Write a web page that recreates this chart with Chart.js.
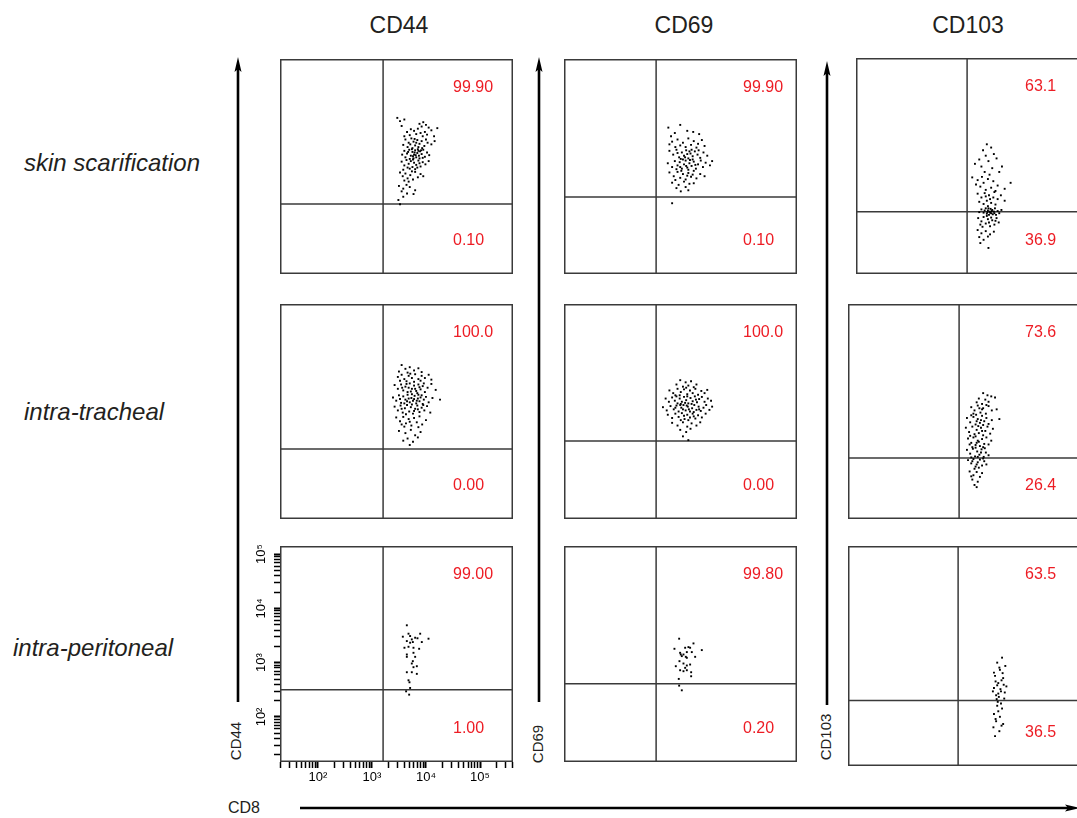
<!DOCTYPE html>
<html>
<head>
<meta charset="utf-8">
<script src="https://cdn.jsdelivr.net/npm/chart.js@4.4.1/dist/chart.umd.min.js"></script>
<style>
  html, body { margin: 0; padding: 0; background: #fff; }
  body { width: 1077px; height: 818px; position: relative; overflow: hidden; }
  canvas { position: absolute; }
  svg { position: absolute; left: 0; top: 0; }
  svg text { font-family: "Liberation Sans", Arial, sans-serif; fill: #231f20; }
</style>
</head>
<body>
<svg width="1077" height="818">
  <text x="399" y="33" font-size="23" text-anchor="middle">CD44</text>
  <text x="684" y="33" font-size="23" text-anchor="middle">CD69</text>
  <text x="968" y="33" font-size="23" text-anchor="middle">CD103</text>

  <text x="24" y="171" font-size="24" font-style="italic">skin scarification</text>
  <text x="24" y="420" font-size="24" font-style="italic">intra-tracheal</text>
  <text x="13" y="656" font-size="24" font-style="italic">intra-peritoneal</text>

  <text transform="translate(241,741) rotate(-90)" font-size="15" text-anchor="middle">CD44</text>
  <text transform="translate(543,744) rotate(-90)" font-size="15" text-anchor="middle">CD69</text>
  <text transform="translate(831,737) rotate(-90)" font-size="15" text-anchor="middle">CD103</text>
  <text x="228" y="813" font-size="16">CD8</text>

  <g stroke="#000" stroke-width="2.6" fill="#000">
    <line x1="238" y1="702" x2="238" y2="68"/>
    <polygon points="238,57 234.5,72 238,69 241.5,72" stroke="none"/>
    <line x1="539" y1="702" x2="539" y2="68"/>
    <polygon points="539,57 535.5,72 539,69 542.5,72" stroke="none"/>
    <line x1="827" y1="705" x2="827" y2="72"/>
    <polygon points="827,61 823.5,76 827,73 830.5,76" stroke="none"/>
    <line x1="300" y1="808" x2="1068" y2="808"/>
    <polygon points="1080,808 1065,804.5 1068,808 1065,811.5" stroke="none"/>
  </g>
</svg>
<script>
// log10 fluorescence values: [CD8, marker]
const skinCD44 = [
  [3.47,4.06],[3.52,4.00],[3.60,4.03],[3.55,3.91],[3.88,3.95],[3.95,3.98],[4.00,3.93],[3.92,3.90],[4.05,3.88],
  [3.65,3.80],[3.72,3.85],[3.78,3.82],[3.85,3.86],[3.90,3.78],[3.98,3.80],[4.10,3.83],[4.21,3.87],[3.70,3.74],[3.82,3.76],[3.94,3.72],[4.02,3.75],[4.15,3.72],[3.60,3.72],
  [3.62,3.66],[3.68,3.60],[3.73,3.68],[3.77,3.62],[3.80,3.55],[3.84,3.65],[3.88,3.58],[3.92,3.63],[3.97,3.54],[4.03,3.60],[4.10,3.57],[3.58,3.56],[3.66,3.52],[3.75,3.50],[3.86,3.52],[3.93,3.50],[4.00,3.66],[3.71,3.57],[3.82,3.60],[3.79,3.67],[4.16,3.63],
  [3.60,3.45],[3.65,3.40],[3.69,3.47],[3.72,3.36],[3.75,3.43],[3.78,3.38],[3.80,3.46],[3.82,3.33],[3.84,3.41],[3.87,3.36],[3.89,3.44],[3.92,3.39],[3.95,3.47],[3.98,3.34],[4.02,3.42],[4.06,3.37],[3.77,3.31],[3.70,3.30],[3.62,3.33],[3.56,3.38],[3.85,3.48],[3.79,3.42],[3.74,3.48],[3.88,3.31],[3.94,3.32],[3.81,3.37],[3.76,3.35],[3.86,3.45],[3.67,3.43],[3.91,3.46],
  [3.55,3.25],[3.60,3.18],[3.64,3.28],[3.68,3.21],[3.72,3.26],[3.75,3.15],[3.78,3.23],[3.82,3.19],[3.86,3.27],[3.90,3.16],[3.94,3.24],[3.99,3.20],[3.70,3.12],[3.58,3.10],[3.80,3.11],[3.66,3.14],[3.88,3.22],[4.05,3.26],[3.76,3.29],[3.84,3.14],
  [3.52,3.05],[3.57,2.98],[3.62,3.03],[3.66,2.94],[3.71,3.00],[3.76,2.92],[3.80,3.06],[3.85,2.96],[3.90,3.02],[3.68,2.88],[3.60,2.90],[3.95,2.98],[3.74,3.07],
  [3.50,2.80],[3.58,2.75],[3.64,2.82],[3.70,2.78],[3.55,2.70],[3.65,2.66],[3.77,2.65],[3.58,2.60],[3.49,2.54],[3.52,2.46],[3.80,2.72]
];
const skinCD69 = [
  [3.23,3.88],[3.45,3.93],[3.69,3.80],[3.35,3.78],[3.58,3.82],[3.80,3.76],[3.28,3.72],
  [3.30,3.62],[3.40,3.66],[3.50,3.60],[3.60,3.68],[3.70,3.63],[3.78,3.58],[3.85,3.65],[3.45,3.55],[3.55,3.52],[3.65,3.56],[3.36,3.52],[3.75,3.51],[3.90,3.54],[3.25,3.57],
  [3.25,3.45],[3.32,3.38],[3.38,3.47],[3.43,3.33],[3.48,3.42],[3.52,3.36],[3.56,3.46],[3.60,3.31],[3.64,3.40],[3.68,3.35],[3.72,3.44],[3.77,3.38],[3.82,3.32],[3.88,3.42],[3.95,3.36],[3.46,3.30],[3.58,3.39],[3.66,3.47],[3.40,3.41],[3.54,3.33],[3.79,3.46],[3.62,3.44],
  [3.22,3.22],[3.30,3.15],[3.35,3.26],[3.40,3.18],[3.44,3.24],[3.48,3.12],[3.52,3.20],[3.55,3.27],[3.58,3.14],[3.62,3.22],[3.66,3.17],[3.70,3.25],[3.74,3.12],[3.78,3.20],[3.83,3.27],[3.87,3.15],[3.92,3.23],[4.00,3.18],[4.04,3.26],[3.50,3.29],[3.60,3.10],[3.45,3.15],[3.68,3.29],[3.56,3.17],[3.38,3.11],[3.73,3.19],[3.63,3.28],
  [3.25,3.05],[3.33,2.98],[3.40,3.06],[3.45,2.95],[3.50,3.02],[3.55,2.92],[3.60,3.04],[3.65,2.97],[3.70,3.08],[3.75,2.94],[3.82,3.02],[3.90,2.98],[3.36,2.91],[3.58,2.99],[3.47,3.08],[3.68,3.01],
  [3.30,2.86],[3.42,2.82],[3.52,2.88],[3.62,2.84],[3.38,2.76],[3.55,2.78],[3.70,2.85],[3.46,2.70],[3.30,2.48],[3.60,2.72]
];
const skinCD103 = [
  [3.72,3.56],[3.65,3.45],[3.80,3.50],[3.70,3.35],[3.85,3.38],[3.58,3.28],[3.75,3.25],[3.90,3.30],[3.62,3.15],[3.82,3.12],[3.50,3.20],[3.95,3.05],[3.68,3.05],[3.77,3.00],[4.00,3.15],
  [3.45,2.95],[3.55,2.90],[3.66,2.85],[3.74,2.92],[3.84,2.88],[3.92,2.80],[3.60,2.78],[3.70,2.72],[3.80,2.76],[3.88,2.70],[3.52,2.82],[4.05,2.74],[4.16,2.85],[3.63,2.96],
  [3.55,2.65],[3.62,2.58],[3.68,2.66],[3.72,2.52],[3.76,2.62],[3.80,2.48],[3.84,2.58],[3.88,2.45],[3.92,2.55],[3.98,2.62],[3.66,2.46],[3.58,2.50],[3.74,2.42],[3.86,2.68],[4.05,2.52],[3.78,2.55],[3.70,2.60],
  [3.62,2.36],[3.66,2.30],[3.70,2.38],[3.72,2.28],[3.74,2.34],[3.76,2.26],[3.77,2.32],[3.79,2.37],[3.80,2.29],[3.82,2.35],[3.83,2.27],[3.85,2.32],[3.87,2.38],[3.89,2.26],[3.92,2.33],[3.95,2.29],[3.68,2.34],[3.78,2.30],[3.81,2.33],[3.75,2.38],[3.86,2.29],[3.58,2.31],[3.99,2.35],[3.73,2.31],
  [3.56,2.20],[3.62,2.14],[3.66,2.22],[3.70,2.10],[3.74,2.18],[3.78,2.05],[3.82,2.16],[3.86,2.08],[3.90,2.20],[3.94,2.12],[3.64,2.04],[3.72,2.24],[3.80,2.21],[3.60,2.08],[3.88,2.15],[3.76,2.12],
  [3.55,1.98],[3.62,1.92],[3.70,1.96],[3.78,1.90],[3.58,1.85],[3.66,1.80],[3.74,1.86],[3.60,1.74],[3.75,1.65],[3.85,1.95]
];
const itCD44 = [
  [3.55,4.02],[3.62,3.95],[3.70,3.98],[3.78,3.92],[3.86,3.96],[3.66,3.88],[3.92,3.89],[3.50,3.90],
  [3.48,3.80],[3.55,3.84],[3.60,3.76],[3.68,3.82],[3.74,3.78],[3.80,3.85],[3.86,3.76],[3.92,3.82],[3.98,3.78],[4.05,3.84],[3.64,3.72],[3.78,3.71],[3.90,3.73],[4.10,3.75],[3.52,3.73],[3.71,3.86],
  [3.42,3.65],[3.48,3.58],[3.54,3.66],[3.58,3.55],[3.62,3.62],[3.66,3.52],[3.70,3.68],[3.74,3.58],[3.78,3.64],[3.82,3.54],[3.86,3.66],[3.90,3.57],[3.94,3.63],[3.98,3.52],[4.03,3.60],[4.10,3.67],[4.18,3.56],[3.68,3.60],[3.80,3.58],[3.56,3.60],[3.88,3.61],[3.72,3.53],[3.96,3.68],[3.64,3.67],[3.84,3.50],
  [3.39,3.42],[3.45,3.36],[3.50,3.46],[3.54,3.32],[3.58,3.44],[3.62,3.38],[3.66,3.47],[3.70,3.33],[3.73,3.41],[3.76,3.36],[3.79,3.45],[3.82,3.31],[3.85,3.40],[3.88,3.35],[3.92,3.46],[3.96,3.38],[4.00,3.43],[4.05,3.33],[4.12,3.41],[4.26,3.38],[3.60,3.31],[3.68,3.40],[3.78,3.39],[3.86,3.47],[3.74,3.48],[3.94,3.30],[3.52,3.39],[3.83,3.36],[3.65,3.35],[3.90,3.42],
  [3.42,3.25],[3.48,3.18],[3.53,3.27],[3.57,3.14],[3.61,3.22],[3.65,3.28],[3.69,3.16],[3.72,3.24],[3.76,3.12],[3.80,3.21],[3.84,3.27],[3.88,3.15],[3.92,3.23],[3.97,3.18],[4.02,3.26],[4.08,3.14],[3.63,3.11],[3.74,3.29],[3.85,3.20],[3.55,3.21],[3.78,3.17],[3.95,3.28],
  [3.45,3.05],[3.52,2.98],[3.58,3.06],[3.63,2.94],[3.68,3.02],[3.73,2.90],[3.78,3.04],[3.83,2.96],[3.88,3.07],[3.93,2.92],[4.00,3.00],[3.60,2.88],[3.70,2.97],[3.86,2.87],[3.55,2.92],
  [3.50,2.80],[3.62,2.76],[3.72,2.82],[3.80,2.72],[3.90,2.78],[3.66,2.66],[3.58,2.62],[3.76,2.60],[3.70,2.54],[3.85,2.68]
];
const itCD69 = [
  [3.45,3.74],[3.55,3.70],[3.65,3.72],[3.38,3.66],[3.75,3.66],[3.50,3.62],[3.60,3.64],
  [3.25,3.55],[3.32,3.50],[3.40,3.58],[3.46,3.52],[3.52,3.57],[3.58,3.48],[3.63,3.55],[3.68,3.50],[3.73,3.58],[3.78,3.47],[3.84,3.54],[3.90,3.50],[3.44,3.46],[3.70,3.61],[3.36,3.46],[3.95,3.56],[3.56,3.60],
  [3.18,3.40],[3.24,3.34],[3.30,3.42],[3.35,3.36],[3.40,3.31],[3.44,3.40],[3.48,3.34],[3.52,3.43],[3.56,3.37],[3.60,3.31],[3.64,3.41],[3.68,3.35],[3.72,3.44],[3.76,3.33],[3.80,3.39],[3.85,3.43],[3.90,3.34],[3.96,3.40],[4.02,3.36],[3.58,3.44],[3.46,3.30],[3.66,3.30],[3.74,3.38],[3.38,3.44],[3.54,3.32],
  [3.13,3.24],[3.20,3.18],[3.27,3.26],[3.33,3.20],[3.38,3.27],[3.42,3.16],[3.47,3.23],[3.51,3.28],[3.55,3.18],[3.59,3.25],[3.63,3.16],[3.67,3.22],[3.71,3.28],[3.75,3.19],[3.79,3.25],[3.83,3.17],[3.88,3.23],[3.93,3.28],[3.99,3.19],[4.04,3.25],[3.50,3.20],[3.61,3.20],[3.45,3.28],[3.70,3.15],[3.36,3.23],[3.57,3.27],[3.80,3.20],
  [3.22,3.10],[3.30,3.04],[3.36,3.12],[3.42,3.06],[3.48,3.13],[3.53,3.02],[3.58,3.10],[3.63,3.05],[3.68,3.12],[3.73,3.03],[3.78,3.09],[3.85,3.05],[3.92,3.12],[3.46,3.00],[3.60,3.00],[3.52,3.08],[3.70,3.07],
  [3.30,2.95],[3.40,2.90],[3.50,2.96],[3.58,2.88],[3.66,2.94],[3.75,2.90],[3.45,2.82],[3.56,2.78],[3.64,2.84],[3.50,2.70],[3.60,2.63],[3.82,2.96]
];
const itCD103 = [
  [3.80,3.50],[3.88,3.46],[3.95,3.44],[3.72,3.40],[3.84,3.38],[4.02,3.42],[3.68,3.33],[3.78,3.30],[3.90,3.34],
  [3.58,3.24],[3.64,3.18],[3.70,3.27],[3.75,3.14],[3.80,3.22],[3.85,3.12],[3.90,3.26],[3.96,3.18],[3.67,3.10],[3.78,3.20],[3.86,3.28],[3.73,3.22],[3.62,3.12],[4.05,3.20],
  [3.50,3.04],[3.56,2.96],[3.62,3.06],[3.66,2.92],[3.70,3.02],[3.74,2.95],[3.78,3.08],[3.82,2.98],[3.86,3.04],[3.90,2.93],[3.96,3.00],[3.68,2.98],[3.80,2.91],[3.58,3.09],[4.10,3.02],[3.76,3.00],
  [3.48,2.86],[3.54,2.78],[3.60,2.88],[3.64,2.74],[3.68,2.82],[3.72,2.76],[3.76,2.86],[3.80,2.72],[3.84,2.80],[3.88,2.88],[3.93,2.75],[3.66,2.70],[3.78,2.80],[3.56,2.71],[3.98,2.84],[3.71,2.89],
  [3.52,2.66],[3.58,2.58],[3.62,2.68],[3.66,2.54],[3.70,2.62],[3.74,2.52],[3.78,2.65],[3.82,2.56],[3.86,2.68],[3.90,2.55],[3.60,2.50],[3.72,2.60],[3.95,2.62],[3.68,2.58],[3.80,2.50],[3.55,2.55],
  [3.50,2.45],[3.56,2.38],[3.61,2.47],[3.65,2.33],[3.69,2.42],[3.73,2.36],[3.77,2.46],[3.81,2.32],[3.85,2.40],[3.90,2.35],[3.66,2.49],[3.76,2.40],[3.58,2.31],[3.83,2.48],[3.70,2.32],
  [3.52,2.26],[3.58,2.20],[3.62,2.28],[3.66,2.14],[3.70,2.22],[3.74,2.27],[3.78,2.16],[3.82,2.24],[3.86,2.18],[3.64,2.10],[3.72,2.12],[3.60,2.24],[3.80,2.29],[3.68,2.18],
  [3.55,2.05],[3.62,1.98],[3.68,2.04],[3.74,1.95],[3.60,1.90],[3.70,1.86],[3.64,1.80],[3.68,1.76],[3.78,2.02],[3.58,1.96]
];
const ipCD44 = [
  [3.646,3.689],[3.572,3.479],[3.677,3.534],[3.707,3.491],[3.738,3.429],[3.80,3.46],[3.893,3.534],[3.843,3.45],[3.923,3.38],[4.047,3.442],
  [3.646,3.398],[3.707,3.368],[3.757,3.38],[3.602,3.275],[3.677,3.293],[3.769,3.275],[3.874,3.256],[3.646,3.151],[3.646,3.108],[3.769,3.182],
  [3.80,3.108],[3.757,3.028],[3.738,2.985],[3.831,2.935],[3.769,2.917],[3.646,2.824],[3.738,2.824],[3.831,2.794],[3.677,2.676],[3.695,2.639],
  [3.707,2.534],[3.633,2.472],[3.689,2.411]
];
const ipCD69 = [
  [3.430,3.442],[3.695,3.355],[3.343,3.256],[3.541,3.275],[3.602,3.287],[3.633,3.275],[3.849,3.232],[3.448,3.182],[3.510,3.151],[3.572,3.195],
  [3.664,3.195],[3.479,3.121],[3.553,3.108],[3.726,3.108],[3.436,3.028],[3.510,2.985],[3.572,2.948],[3.633,2.966],[3.368,2.935],[3.541,2.905],
  [3.448,2.861],[3.510,2.843],[3.572,2.861],[3.652,2.824],[3.652,2.75],[3.423,2.701],[3.430,2.577],[3.479,2.491],[3.572,3.09],[3.46,3.151]
];
const ipCD103 = [
  [4.15,3.13],[4.06,3.04],[4.21,2.98],[4.11,2.91],[4.02,2.80],[4.17,2.76],[4.08,2.67],[4.23,2.61],[4.00,2.58],[4.13,2.52],
  [4.04,2.45],[4.19,2.39],[4.10,2.95],[4.00,2.86],[4.14,2.72],[4.06,2.63],[4.20,2.50],[4.09,2.42],[4.03,2.70],[4.16,2.85],
  [4.12,2.56],[4.05,2.38],[4.18,2.64],[4.08,2.48],[3.98,2.52],
  [4.06,2.26],[4.15,2.21],[4.00,2.11],[4.11,2.06],[4.04,1.98],[4.17,1.93],[3.99,1.87],[4.10,1.80],[4.02,1.71],[4.13,2.30],
  [4.08,2.16],[4.03,2.02],[4.14,1.90],[4.07,2.33]
];

// quadrant gates (log10) and quadrant percentages, panel order row by row
const gateCD8    = [3.207, 3.004, 3.355, 3.207, 3.004, 3.355, 3.207, 3.004, 3.337];
const gateMarker = [2.466, 2.596, 2.318, 2.466, 2.614, 2.300, 2.503, 2.614, 2.355];
const pctUpper = ["99.90", "99.90", "63.1", "100.0", "100.0", "73.6", "99.00", "99.80", "63.5"];
const pctLower = ["0.10", "0.10", "36.9", "0.00", "0.00", "26.4", "1.00", "0.20", "36.5"];

const decadeTicks  = [100, 1000, 10000, 100000];
const decadeLabels = ["10\u00B2", "10\u00B3", "10\u2074", "10\u2075"];

const X_MIN = 10 ** 1.30, X_MAX = 10 ** 5.61;
const Y_MIN = 10 ** 1.17, Y_MAX = 10 ** 5.15;

const clouds = [skinCD44, skinCD69, skinCD103, itCD44, itCD69, itCD103, ipCD44, ipCD69, ipCD103];

// left, top, width, height of the plot frame, label x offset
const boxes = [
  [280, 59, 233, 215, 173], [564, 59, 233, 215, 179], [856, 58, 233, 216, 169],
  [280, 304, 233, 215, 173], [564, 304, 233, 215, 179], [848, 304, 233, 215, 177],
  [280, 546, 233, 216, 173], [564, 546, 233, 216, 179], [848, 546, 233, 220, 177]
];

const FONT = "'Liberation Sans', Arial, sans-serif";

function axisTicks(min, max) {
  let out = [];
  for (let d = 10; d <= 1e6; d *= 10) {
    for (let k = 1; k <= 9; k++) {
      let v = d * k;
      if (v >= min && v <= max) out.push({ value: v, major: k == 1 });
    }
  }
  return out;
}

function tickLabel(v) {
  let i = decadeTicks.indexOf(v);
  return i >= 0 ? decadeLabels[i] : "";
}

const framePlugin = {
  id: "frame",
  afterDraw(chart) {
    const { ctx, chartArea: a } = chart;
    const p = chart.options.plugins.frame;
    ctx.save();
    ctx.strokeStyle = "#3a3a3a";
    ctx.lineWidth = 1.5;
    ctx.strokeRect(a.left + 0.75, a.top + 0.75, a.right - a.left - 1.5, a.bottom - a.top - 1.5);
    ctx.fillStyle = "#ed1c24";
    ctx.font = "16px " + FONT;
    ctx.textAlign = "left";
    ctx.textBaseline = "middle";
    ctx.fillText(p.upper, a.left + p.lx, a.top + 29);
    ctx.fillText(p.lower, a.left + p.lx, a.bottom - 33);
    ctx.restore();
  }
};

function buildPanel(i) {
  let [x, y, w, h, lx] = boxes[i];
  let axes = i == 6;
  let cv = document.createElement("canvas");
  let cx = axes ? x - 35 : x, cy = axes ? y - 6 : y;
  cv.width = axes ? w + 42 : w;
  cv.height = axes ? h + 34 : h;
  cv.style.left = cx + "px";
  cv.style.top = cy + "px";
  document.body.appendChild(cv);

  let gx = 10 ** gateCD8[i], gy = 10 ** gateMarker[i];
  let gateLine = {
    showLine: true, borderColor: "#3a3a3a", borderWidth: 1.5, pointRadius: 0, fill: false
  };

  new Chart(cv.getContext("2d"), {
    type: "scatter",
    data: {
      datasets: [
        {
          data: clouds[i].map(p => ({ x: 10 ** p[0], y: 10 ** p[1] })),
          pointStyle: "rect",
          pointRadius: 1.35,
          backgroundColor: "#000",
          borderWidth: 0
        },
        Object.assign({ data: [{ x: gx, y: Y_MIN }, { x: gx, y: Y_MAX }] }, gateLine),
        Object.assign({ data: [{ x: X_MIN, y: gy }, { x: X_MAX, y: gy }] }, gateLine)
      ]
    },
    options: {
      responsive: false,
      devicePixelRatio: 1,
      animation: false,
      events: [],
      layout: {
        autoPadding: false,
        padding: axes ? { top: 6, right: 7, left: 0, bottom: 0 } : 0
      },
      plugins: {
        legend: { display: false },
        tooltip: { enabled: false },
        frame: { upper: pctUpper[i], lower: pctLower[i], lx: lx }
      },
      scales: {
        x: {
          type: "logarithmic", min: X_MIN, max: X_MAX, display: axes,
          afterBuildTicks: s => { s.ticks = axisTicks(X_MIN, X_MAX); },
          afterFit: s => {
            if (!axes) return;
            s.height = 28; s.paddingLeft = 0; s.paddingRight = 0;
          },
          border: { display: false },
          grid: {
            drawOnChartArea: false, tickLength: 6, tickColor: "#000",
            tickWidth: c => (c.tick && c.tick.major ? 2 : 1.5)
          },
          ticks: {
            autoSkip: false, maxRotation: 0, minRotation: 0, padding: 2,
            color: "#000", font: { size: 13, family: FONT },
            callback: v => tickLabel(v)
          }
        },
        y: {
          type: "logarithmic", min: Y_MIN, max: Y_MAX, display: axes,
          afterBuildTicks: s => { s.ticks = axisTicks(Y_MIN, Y_MAX); },
          afterFit: s => {
            if (!axes) return;
            s.width = 35; s.paddingTop = 0; s.paddingBottom = 0;
          },
          border: { display: false },
          grid: {
            drawOnChartArea: false, tickLength: 6, tickColor: "#000",
            tickWidth: c => (c.tick && c.tick.major ? 2 : 1.5)
          },
          ticks: {
            autoSkip: false, minRotation: 90, maxRotation: 90, crossAlign: "center", padding: 3,
            color: "#000", font: { size: 13, family: FONT },
            callback: v => tickLabel(v)
          }
        }
      }
    },
    plugins: [framePlugin]
  });
}

for (let i = 0; i < boxes.length; i++) buildPanel(i);
</script>
</body>
</html>
